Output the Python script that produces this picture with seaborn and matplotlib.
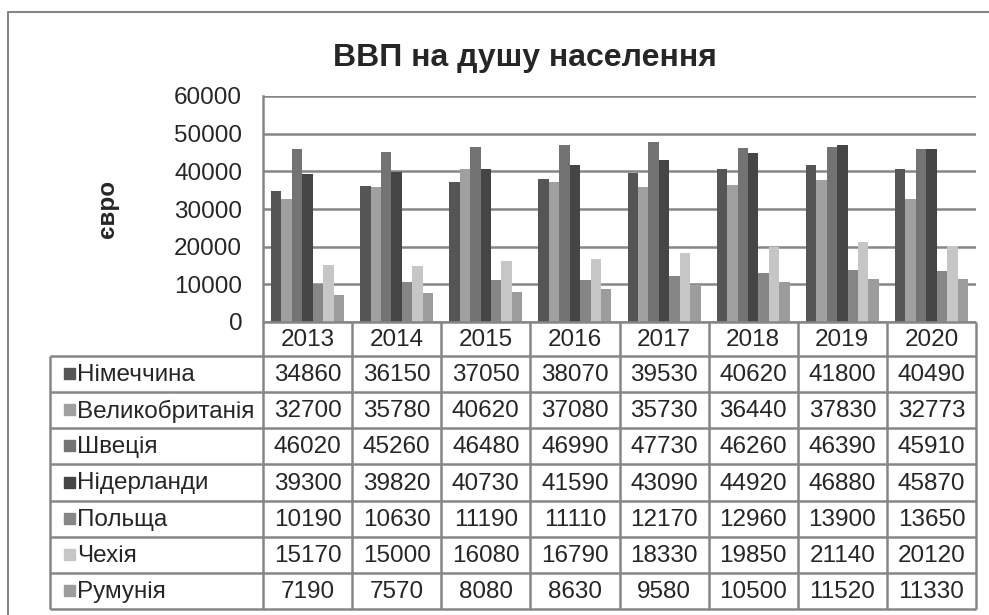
import matplotlib
matplotlib.use("Agg")
import matplotlib.pyplot as plt
import seaborn as sns
import pandas as pd

years = ['2013', '2014', '2015', '2016', '2017', '2018', '2019', '2020']
countries = ['Німеччина', 'Великобританія', 'Швеція', 'Нідерланди', 'Польща', 'Чехія', 'Румунія']
germany = [34860, 36150, 37050, 38070, 39530, 40620, 41800, 40490]
uk = [32700, 35780, 40620, 37080, 35730, 36440, 37830, 32773]
sweden = [46020, 45260, 46480, 46990, 47730, 46260, 46390, 45910]
netherlands = [39300, 39820, 40730, 41590, 43090, 44920, 46880, 45870]
poland = [10190, 10630, 11190, 11110, 12170, 12960, 13900, 13650]
czechia = [15170, 15000, 16080, 16790, 18330, 19850, 21140, 20120]
romania = [7190, 7570, 8080, 8630, 9580, 10500, 11520, 11330]
colors = ['#555555', '#a0a0a0', '#737373', '#454545', '#868686', '#c6c6c6', '#9c9c9c']

series = [germany, uk, sweden, netherlands, poland, czechia, romania]
df = pd.DataFrame([(y, c, v) for c, vals in zip(countries, series) for y, v in zip(years, vals)],
                  columns=['year', 'country', 'value'])

sns.set_style("white")
plt.rcParams['font.family'] = ['Liberation Sans', 'DejaVu Sans']

W, H = 989, 615
fs = 17.5
fig = plt.figure(figsize=(W / 100, H / 100), dpi=100)
grid_c = '#868686'

# layout in pixels
x_left, x_right = 263, 976
y_top, y_zero = 96, 322
ax = fig.add_axes([x_left / W, 1 - y_zero / H, (x_right - x_left) / W, (y_zero - y_top) / H])
sns.barplot(data=df, x='year', y='value', hue='country', palette=colors, width=0.82,
            saturation=1, linewidth=0, legend=False, ax=ax)
ax.set_ylim(0, 60000)
ax.set_yticks(range(0, 60001, 10000))
ax.yaxis.grid(True, color=grid_c, linewidth=1.8)
ax.set_axisbelow(True)
for s in ['top', 'right', 'bottom']:
    ax.spines[s].set_visible(False)
ax.spines['left'].set_color(grid_c)
ax.spines['left'].set_linewidth(1.8)
ax.tick_params(axis='y', length=4, width=1.5, color=grid_c, labelsize=fs, pad=11)
ax.set_xticks([])
ax.set_xlabel(None)
ax.set_ylabel('євро', fontsize=fs, fontweight='bold', labelpad=40)

fig.text(525 / W, 1 - 58 / H, 'ВВП на душу населення', fontsize=23, fontweight='bold',
         ha='center', va='center')

# data table drawn in pixel coordinates
tab = fig.add_axes([0, 0, 1, 1])
tab.set_xlim(0, W)
tab.set_ylim(H, 0)
tab.axis('off')
tab.patch.set_alpha(0)

label_x0 = 50
col_w = (x_right - x_left) / len(years)
head_b = 356
row_h = (609 - head_b) / len(countries)
lw = 1.8

# outer chart border
tab.plot([8, 8, W + 5], [H + 5, 12, 12], color=grid_c, lw=1.5)

# header row
tab.hlines(y_zero, x_left, x_right, color=grid_c, lw=lw)
for i, yr in enumerate(years):
    cx = x_left + (i + 0.5) * col_w
    tab.text(cx, (y_zero + head_b) / 2 + 1, yr, fontsize=fs, ha='center', va='center')
for i in range(len(years) + 1):
    tab.vlines(x_left + i * col_w, y_zero, 609, color=grid_c, lw=lw)
tab.vlines(label_x0, head_b, 609, color=grid_c, lw=lw)
for k in range(len(countries) + 1):
    tab.hlines(head_b + k * row_h, label_x0, x_right, color=grid_c, lw=lw)

for k, (name, vals, col) in enumerate(zip(countries, series, colors)):
    cy = head_b + (k + 0.5) * row_h
    tab.add_patch(plt.Rectangle((64, cy - 6), 11, 11, color=col))
    tab.text(77, cy + 1, name, fontsize=fs, ha='left', va='center')
    for i, v in enumerate(vals):
        tab.text(x_left + (i + 0.5) * col_w, cy + 1, str(v), fontsize=fs, ha='center', va='center')

fig.savefig('out.png', dpi=100)
